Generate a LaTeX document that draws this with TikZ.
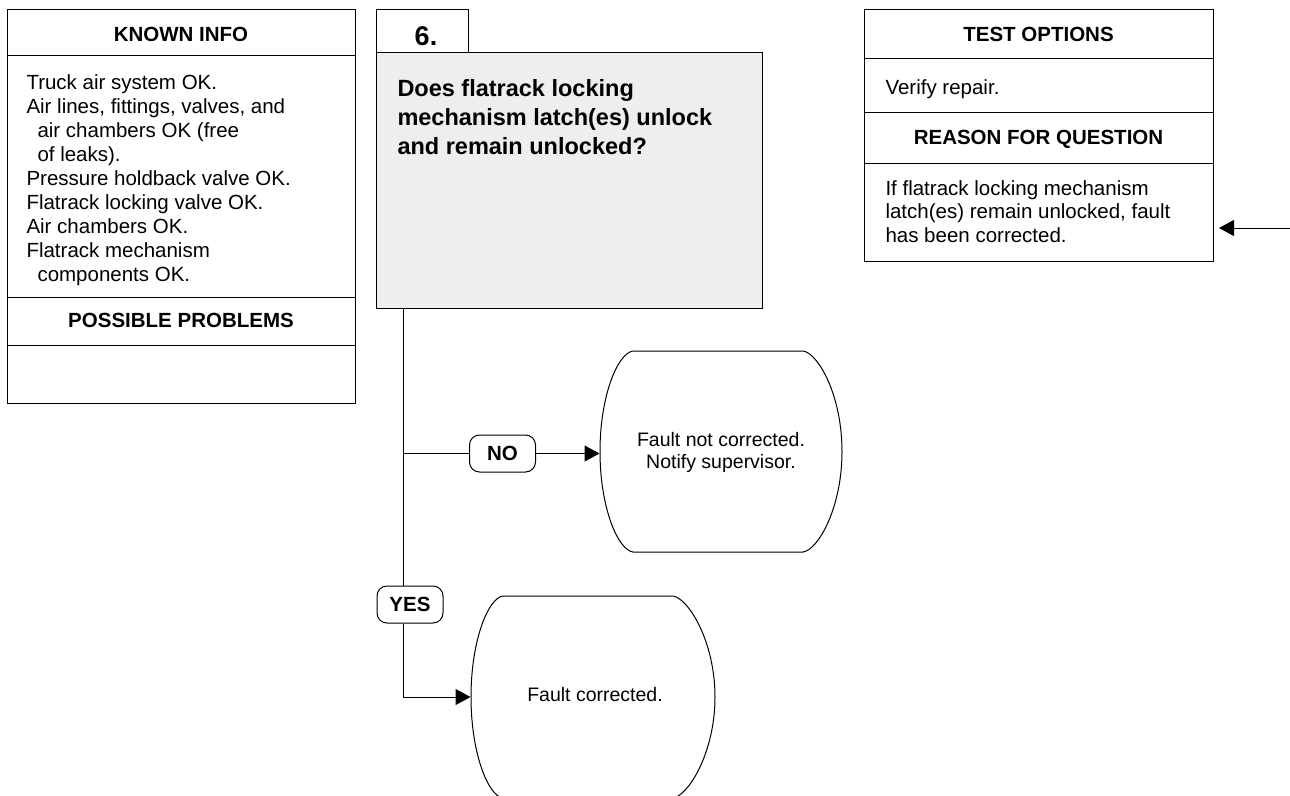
\documentclass[tikz,border=0pt]{standalone}
\usepackage{fontspec}
\setmainfont{Liberation Sans}
\usetikzlibrary{arrows.meta}
\definecolor{qgray}{HTML}{EEEEEE}
\begin{document}
\begin{tikzpicture}[x=1pt,y=-1pt, line width=1pt,
  frame/.style={draw=black, line width=1pt, inner sep=0pt, anchor=north west},
  head/.style={font=\fontsize{20.5}{24}\selectfont\bfseries, anchor=center, inner sep=0pt},
  body/.style={font=\fontsize{20.5}{24}\selectfont, anchor=base west, align=left, inner sep=0pt},
  lab/.style={draw, rounded corners=10pt, font=\fontsize{20.5}{24}\selectfont\bfseries, fill=white, minimum width=66pt, minimum height=37pt, inner sep=0pt},
  termtext/.style={font=\fontsize{19.5}{22}\selectfont, align=center, inner sep=0pt},
  term/.style={inner sep=0pt},
  tip/.style={-{Triangle[length=15pt,width=16pt]}}
]
\useasboundingbox (0,0) rectangle (1290,795);

% KNOWN INFO box
\node[frame, minimum width=348pt, minimum height=394pt] (kbox) at (7,9) {};
\draw (7,55) -- (355,55) (7,297) -- (355,297) (7,345) -- (355,345);
\node[head] (kh) at (181,34.5) {KNOWN INFO};
% base anchor of a multi-line node = baseline of its last line
\node[body] (kb) at (26,281) {Truck air system OK.\\
Air lines, fittings, valves, and\\
\hspace*{11pt}air chambers OK (free\\
\hspace*{11pt}of leaks).\\
Pressure holdback valve OK.\\
Flatrack locking valve OK.\\
Air chambers OK.\\
Flatrack mechanism\\
\hspace*{11pt}components OK.};
\node[head] (ph) at (181,320.5) {POSSIBLE PROBLEMS};

% Question
\node[frame, minimum width=92pt, minimum height=43pt] (tab) at (376,9) {};
\node[font=\fontsize{27}{30}\selectfont\bfseries, inner sep=0pt] (num) at (426,36) {6.};
\node[frame, fill=qgray, minimum width=386pt, minimum height=256pt] (q) at (376,52) {};
\node[font=\fontsize{23.5}{29}\selectfont\bfseries, anchor=base west, align=left, inner sep=0pt] (qt) at (397,154)
  {Does flatrack locking\\mechanism latch(es) unlock\\and remain unlocked?};

% TEST OPTIONS box
\node[frame, minimum width=349pt, minimum height=252pt] (tbox) at (864,9) {};
\draw (864,58) -- (1213,58) (864,112) -- (1213,112) (864,163) -- (1213,163);
\node[head] (th) at (1038.5,34.5) {TEST OPTIONS};
\node[body] (tb) at (885,94) {Verify repair.};
\node[head] (rh) at (1038.5,139.5) {REASON FOR QUESTION};
\node[body, font=\fontsize{20.5}{23.5}\selectfont] (rb) at (885,242) {If flatrack locking mechanism\\latch(es) remain unlocked, fault\\has been corrected.};
\coordinate (rin) at (1290,228);
\draw[tip] (rin) -- ([xshift=5pt]tbox.east |- rin);

% Terminals
\node[term, minimum width=242pt, minimum height=201pt] (nt) at (721,451.5) {};
\draw (633,351) -- (803,351) .. controls (818,353) and (842,395) .. (842,451.5)
  .. controls (842,508) and (818,550) .. (803,552) -- (633,552)
  .. controls (618,550) and (600,508) .. (600,451.5)
  .. controls (600,395) and (618,353) .. (633,351) -- cycle;
\node[termtext] (ntt) at (721,452) {Fault not corrected.\\Notify supervisor.};

\node[term, minimum width=244pt, minimum height=202pt] (yt) at (593,697) {};
\draw (503,596) -- (673,596) .. controls (688,598) and (715,641) .. (715,697)
  .. controls (715,753) and (688,796) .. (673,798) -- (503,798)
  .. controls (488,796) and (471,753) .. (471,697)
  .. controls (471,641) and (488,598) .. (503,596) -- cycle;
\node[termtext] (ytt) at (595,695) {Fault corrected.};

% Labels and connectors
\coordinate (qb) at (403,308);
\node[lab] (no) at (502.5,453.5) {NO};
\node[lab] (yes) at (410,604.5) {YES};
\draw (qb) -- (qb |- yes.north);
\draw (qb |- no.west) -- (no.west);
\draw[tip] (no.east) -- (nt.west |- no.east);
\draw[tip] (qb |- yes.south) |- (yt.west);
\end{tikzpicture}
\end{document}
